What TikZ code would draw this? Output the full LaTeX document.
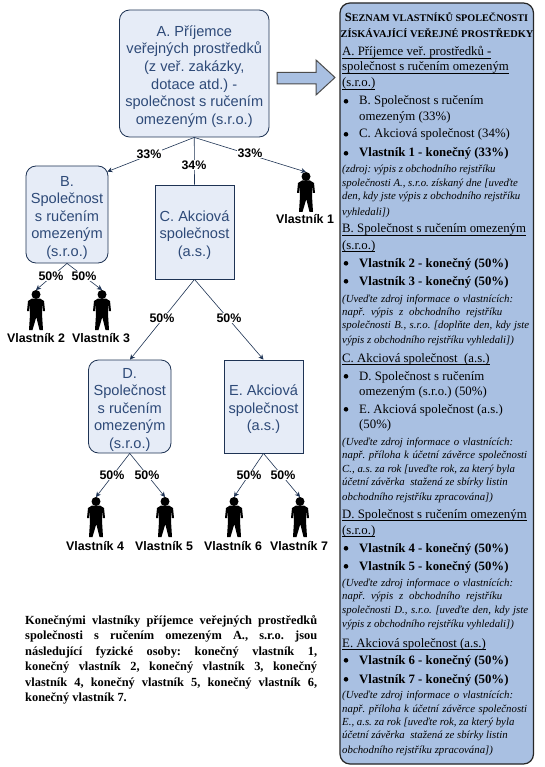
\documentclass[tikz,border=0pt]{standalone}
\usepackage{fontspec}
\setmainfont{Liberation Serif}
\newfontfamily\arf{Liberation Sans}
\usetikzlibrary{arrows.meta,calc}
\frenchspacing
\definecolor{boxfill}{HTML}{E6ECF7}
\definecolor{boxtext}{HTML}{2E4A78}
\definecolor{boxline}{HTML}{1E3354}
\definecolor{panelfill}{HTML}{A9C0E2}
\newcounter{tl}
\newcommand{\myul}[1]{\setbox0\hbox{#1}\rlap{\vrule width\wd0 height -1.6pt depth 2.2pt}\box0}
\newcommand{\up}{\rule{0pt}{16.5pt}}
\tikzset{
 x=1pt,y=-1pt,
 orgbox/.style={draw=boxline,line width=0.8pt,fill=boxfill,text=boxtext,align=center,inner sep=0pt,
   font=\arf\fontsize{14.6}{17.6}\selectfont},
 rbox/.style={orgbox,rounded corners=10pt},
 conn/.style={draw=boxline,line width=0.6pt},
 arr/.style={conn,-{Stealth[length=5pt,width=5pt]}},
 pct/.style={fill=white,inner sep=0.6pt,font=\arf\bfseries\fontsize{12.4}{14}\selectfont},
 owner/.style={inner sep=0pt,font=\arf\bfseries\fontsize{12.4}{14}\selectfont},
 linetext/.style={anchor=base west,inner sep=0pt,text=black},
 pr/.style={linetext,font=\fontsize{12.8}{14}\selectfont},
 pb/.style={linetext,font=\bfseries\fontsize{12.8}{14}\selectfont},
 pi/.style={linetext,font=\itshape\fontsize{10.8}{13}\selectfont},
 pp/.style={linetext,font=\bfseries\fontsize{12.4}{14}\selectfont},
 person/.pic={
  \fill[black] (0,4.5) circle (4.5);
  \fill[black] (-4,8.5)--(4,8.5)--(8,11)--(9,21)--(7,21)--(6.3,14)--(6,24)--(7,40)--(3.5,40)--(0.3,27)--(-3.5,40)--(-7,40)--(-6,24)--(-6.3,14)--(-7,21)--(-9,21)--(-8,11)--cycle;
 }
}
\newcommand{\tl}[4][pr]{\stepcounter{tl}\node[#1] (t\arabic{tl}) at (#2,#3) {#4};}
\newcommand{\bul}[4][pr]{\fill[black] (346,#3-3.7) circle (2.3);\tl[#1]{#2}{#3}{#4}}
\begin{document}
\begin{tikzpicture}
\useasboundingbox (0,0) rectangle (545,767);
\fill[white] (0,0) rectangle (545,767);

% panel and block arrow
\draw[fill=panelfill,draw=black!85,line width=1.2pt,rounded corners=10pt] (340,3) rectangle (533.5,764);
\draw[fill=panelfill,draw=black!70,line width=1pt] (277,72.5)--(316,72.5)--(316,60)--(335,77.5)--(316,95)--(316,84)--(277,84)--cycle;

% boxes
\node[rbox,minimum width=149.5pt,minimum height=127pt] (A) at (194.25,73.5) {\up A. Příjemce\\veřejných prostředků\\(z veř. zakázky,\\dotace atd.) -\\společnost s ručením\\omezeným (s.r.o.)};
\node[rbox,minimum width=82pt,minimum height=97pt] (B) at (67,214.5) {\up B.\\Společnost\\s ručením\\omezeným\\(s.r.o.)};
\node[orgbox,minimum width=79pt,minimum height=94pt] (C) at (194.5,232) {\up C. Akciová\\společnost\\(a.s.)};
\node[rbox,minimum width=82.5pt,minimum height=93pt] (D) at (129.75,406.5) {\up D.\\Společnost\\s ručením\\omezeným\\(s.r.o.)};
\node[orgbox,minimum width=79pt,minimum height=93pt] (E) at (263.5,406.5) {\up E. Akciová\\společnost\\(a.s.)};

% owners
\coordinate (p1) at (306,172);
\coordinate (p2) at (36,290);
\coordinate (p3) at (102,290);
\coordinate (p4) at (96,497);
\coordinate (p5) at (165,497);
\coordinate (p6) at (234,497);
\coordinate (p7) at (300,497);
\foreach \p in {p1,p2,p3,p4,p5,p6,p7} \pic at (\p) {person};
\node[owner] (o1) at (305,219) {Vlastník 1};
\node[owner] (o2) at (36,338) {Vlastník 2};
\node[owner] (o3) at (101,338) {Vlastník 3};
\node[owner] (o4) at (95,546) {Vlastník 4};
\node[owner] (o5) at (164,546) {Vlastník 5};
\node[owner] (o6) at (233,546) {Vlastník 6};
\node[owner] (o7) at (299,546) {Vlastník 7};

% connectors
\draw[arr] (A.south) -- ([shift={(-1,6)}]B.north east);
\draw[conn] (A.south) -- (C.north);
\draw[arr] (A.south) -- (p1);
\draw[arr] (B.south) -- (p2);
\draw[arr] (B.south) -- (p3);
\draw[arr] (C.south) -- ([xshift=0.25pt]D.north);
\draw[arr] (C.south) -- (E.north);
\draw[arr] (D.south) -- (p4);
\draw[arr] (D.south) -- (p5);
\draw[arr] (E.south) -- (p6);
\draw[arr] (E.south) -- (p7);

% percentages
\node[pct] (l1) at (149,154) {33\%};
\node[pct] (l2) at (194,165) {34\%};
\node[pct] (l3) at (250,153) {33\%};
\node[pct] (l4) at (51,276) {50\%};
\node[pct] (l5) at (84,276) {50\%};
\node[pct] (l6) at (162,318) {50\%};
\node[pct] (l7) at (229,318) {50\%};
\node[pct] (l8) at (112,475) {50\%};
\node[pct] (l9) at (147,475) {50\%};
\node[pct] (l10) at (249,475) {50\%};
\node[pct] (l11) at (283,475) {50\%};

% panel text
\node[anchor=base,inner sep=0pt,font=\bfseries] (h1) at (436.5,22) {\fontsize{12.5}{13}\selectfont S\fontsize{10.2}{13}\selectfont EZNAM VLASTNÍKŮ SPOLEČNOSTI};
\node[anchor=base,inner sep=0pt,font=\bfseries] (h2) at (437,38) {\fontsize{10.4}{13}\selectfont ZÍSKÁVAJÍCÍ VEŘEJNÉ PROSTŘEDKY};
\tl{342}{56}{\myul{A. Příjemce veř. prostředků -}}
\tl{342}{71}{\myul{společnost s ručením omezeným}}
\tl{342}{87}{\myul{(s.r.o.)}}
\bul{359}{105}{B. Společnost s ručením}
\tl{359}{121}{omezeným (33\%)}
\bul{359}{138}{C. Akciová společnost (34\%)}
\bul[pb]{359}{157}{Vlastník 1 - konečný (33\%)}
\tl[pi]{342}{173}{(zdroj: výpis z obchodního rejstříku}
\tl[pi]{342}{187}{společnosti A., s.r.o. získaný dne [uveďte}
\tl[pi]{342}{200}{den, kdy jste výpis z obchodního rejstříku}
\tl[pi]{342}{215}{vyhledali])}
\tl{342}{233}{\myul{B. Společnost s ručením omezeným}}
\tl{342}{249}{\myul{(s.r.o.)}}
\bul[pb]{359}{267}{Vlastník 2 - konečný (50\%)}
\bul[pb]{359}{285}{Vlastník 3 - konečný (50\%)}
\tl[pi]{342}{302}{\makebox[171pt][s]{(Uveďte zdroj informace o vlastnících:}}
\tl[pi]{342}{315}{\makebox[160pt][s]{např. výpis z obchodního rejstříku}}
\tl[pi]{342}{328}{\makebox[187pt][s]{společnosti B., s.r.o. [doplňte den, kdy jste}}
\tl[pi]{342}{343}{výpis z obchodního rejstříku vyhledali])}
\tl{342}{362}{\myul{C. Akciová společnost\ \ (a.s.)}}
\bul{359}{380}{D. Společnost s ručením}
\tl{359}{395}{omezeným (s.r.o.) (50\%)}
\bul{359}{413}{E. Akciová společnost (a.s.)}
\tl{359}{428}{(50\%)}
\tl[pi]{342}{445}{\makebox[171pt][s]{(Uveďte zdroj informace o vlastnících:}}
\tl[pi]{342}{458}{\makebox[185pt][s]{např. příloha k účetní závěrce společnosti}}
\tl[pi]{342}{472}{C., a.s. za rok [uveďte rok, za který byla}
\tl[pi]{342}{485}{účetní závěrka\ \ stažená ze sbírky listin}
\tl[pi]{342}{500}{obchodního rejstříku zpracována])}
\tl{342}{518}{\myul{D. Společnost s ručením omezeným}}
\tl{342}{534}{\myul{(s.r.o.)}}
\bul[pb]{359}{552}{Vlastník 4 - konečný (50\%)}
\bul[pb]{359}{570}{Vlastník 5 - konečný (50\%)}
\tl[pi]{342}{586}{\makebox[171pt][s]{(Uveďte zdroj informace o vlastnících:}}
\tl[pi]{342}{599}{\makebox[160pt][s]{např. výpis z obchodního rejstříku}}
\tl[pi]{342}{613}{\makebox[186pt][s]{společnosti D., s.r.o. [uveďte den, kdy jste}}
\tl[pi]{342}{627}{výpis z obchodního rejstříku vyhledali])}
\tl{342}{647}{\myul{E. Akciová společnost (a.s.)}}
\bul[pb]{359}{664}{Vlastník 6 - konečný (50\%)}
\bul[pb]{359}{683}{Vlastník 7 - konečný (50\%)}
\tl[pi]{342}{698}{\makebox[171pt][s]{(Uveďte zdroj informace o vlastnících:}}
\tl[pi]{342}{712}{\makebox[185pt][s]{např. příloha k účetní závěrce společnosti}}
\tl[pi]{342}{725}{E., a.s. za rok [uveďte rok, za který byla}
\tl[pi]{342}{738}{účetní závěrka\ \ stažená ze sbírky listin}
\tl[pi]{342}{753}{obchodního rejstříku zpracována])}

% bottom paragraph
\tl[pp]{25}{624}{\makebox[292pt][s]{Konečnými vlastníky příjemce veřejných prostředků}}
\tl[pp]{25}{639}{\makebox[292pt][s]{společnosti s ručením omezeným A., s.r.o. jsou}}
\tl[pp]{25}{655}{\makebox[292pt][s]{následující fyzické osoby: konečný vlastník 1,}}
\tl[pp]{25}{670}{\makebox[292pt][s]{konečný vlastník 2, konečný vlastník 3, konečný}}
\tl[pp]{25}{686}{\makebox[292pt][s]{vlastník 4, konečný vlastník 5, konečný vlastník 6,}}
\tl[pp]{25}{701}{konečný vlastník 7.}
\end{tikzpicture}
\end{document}
